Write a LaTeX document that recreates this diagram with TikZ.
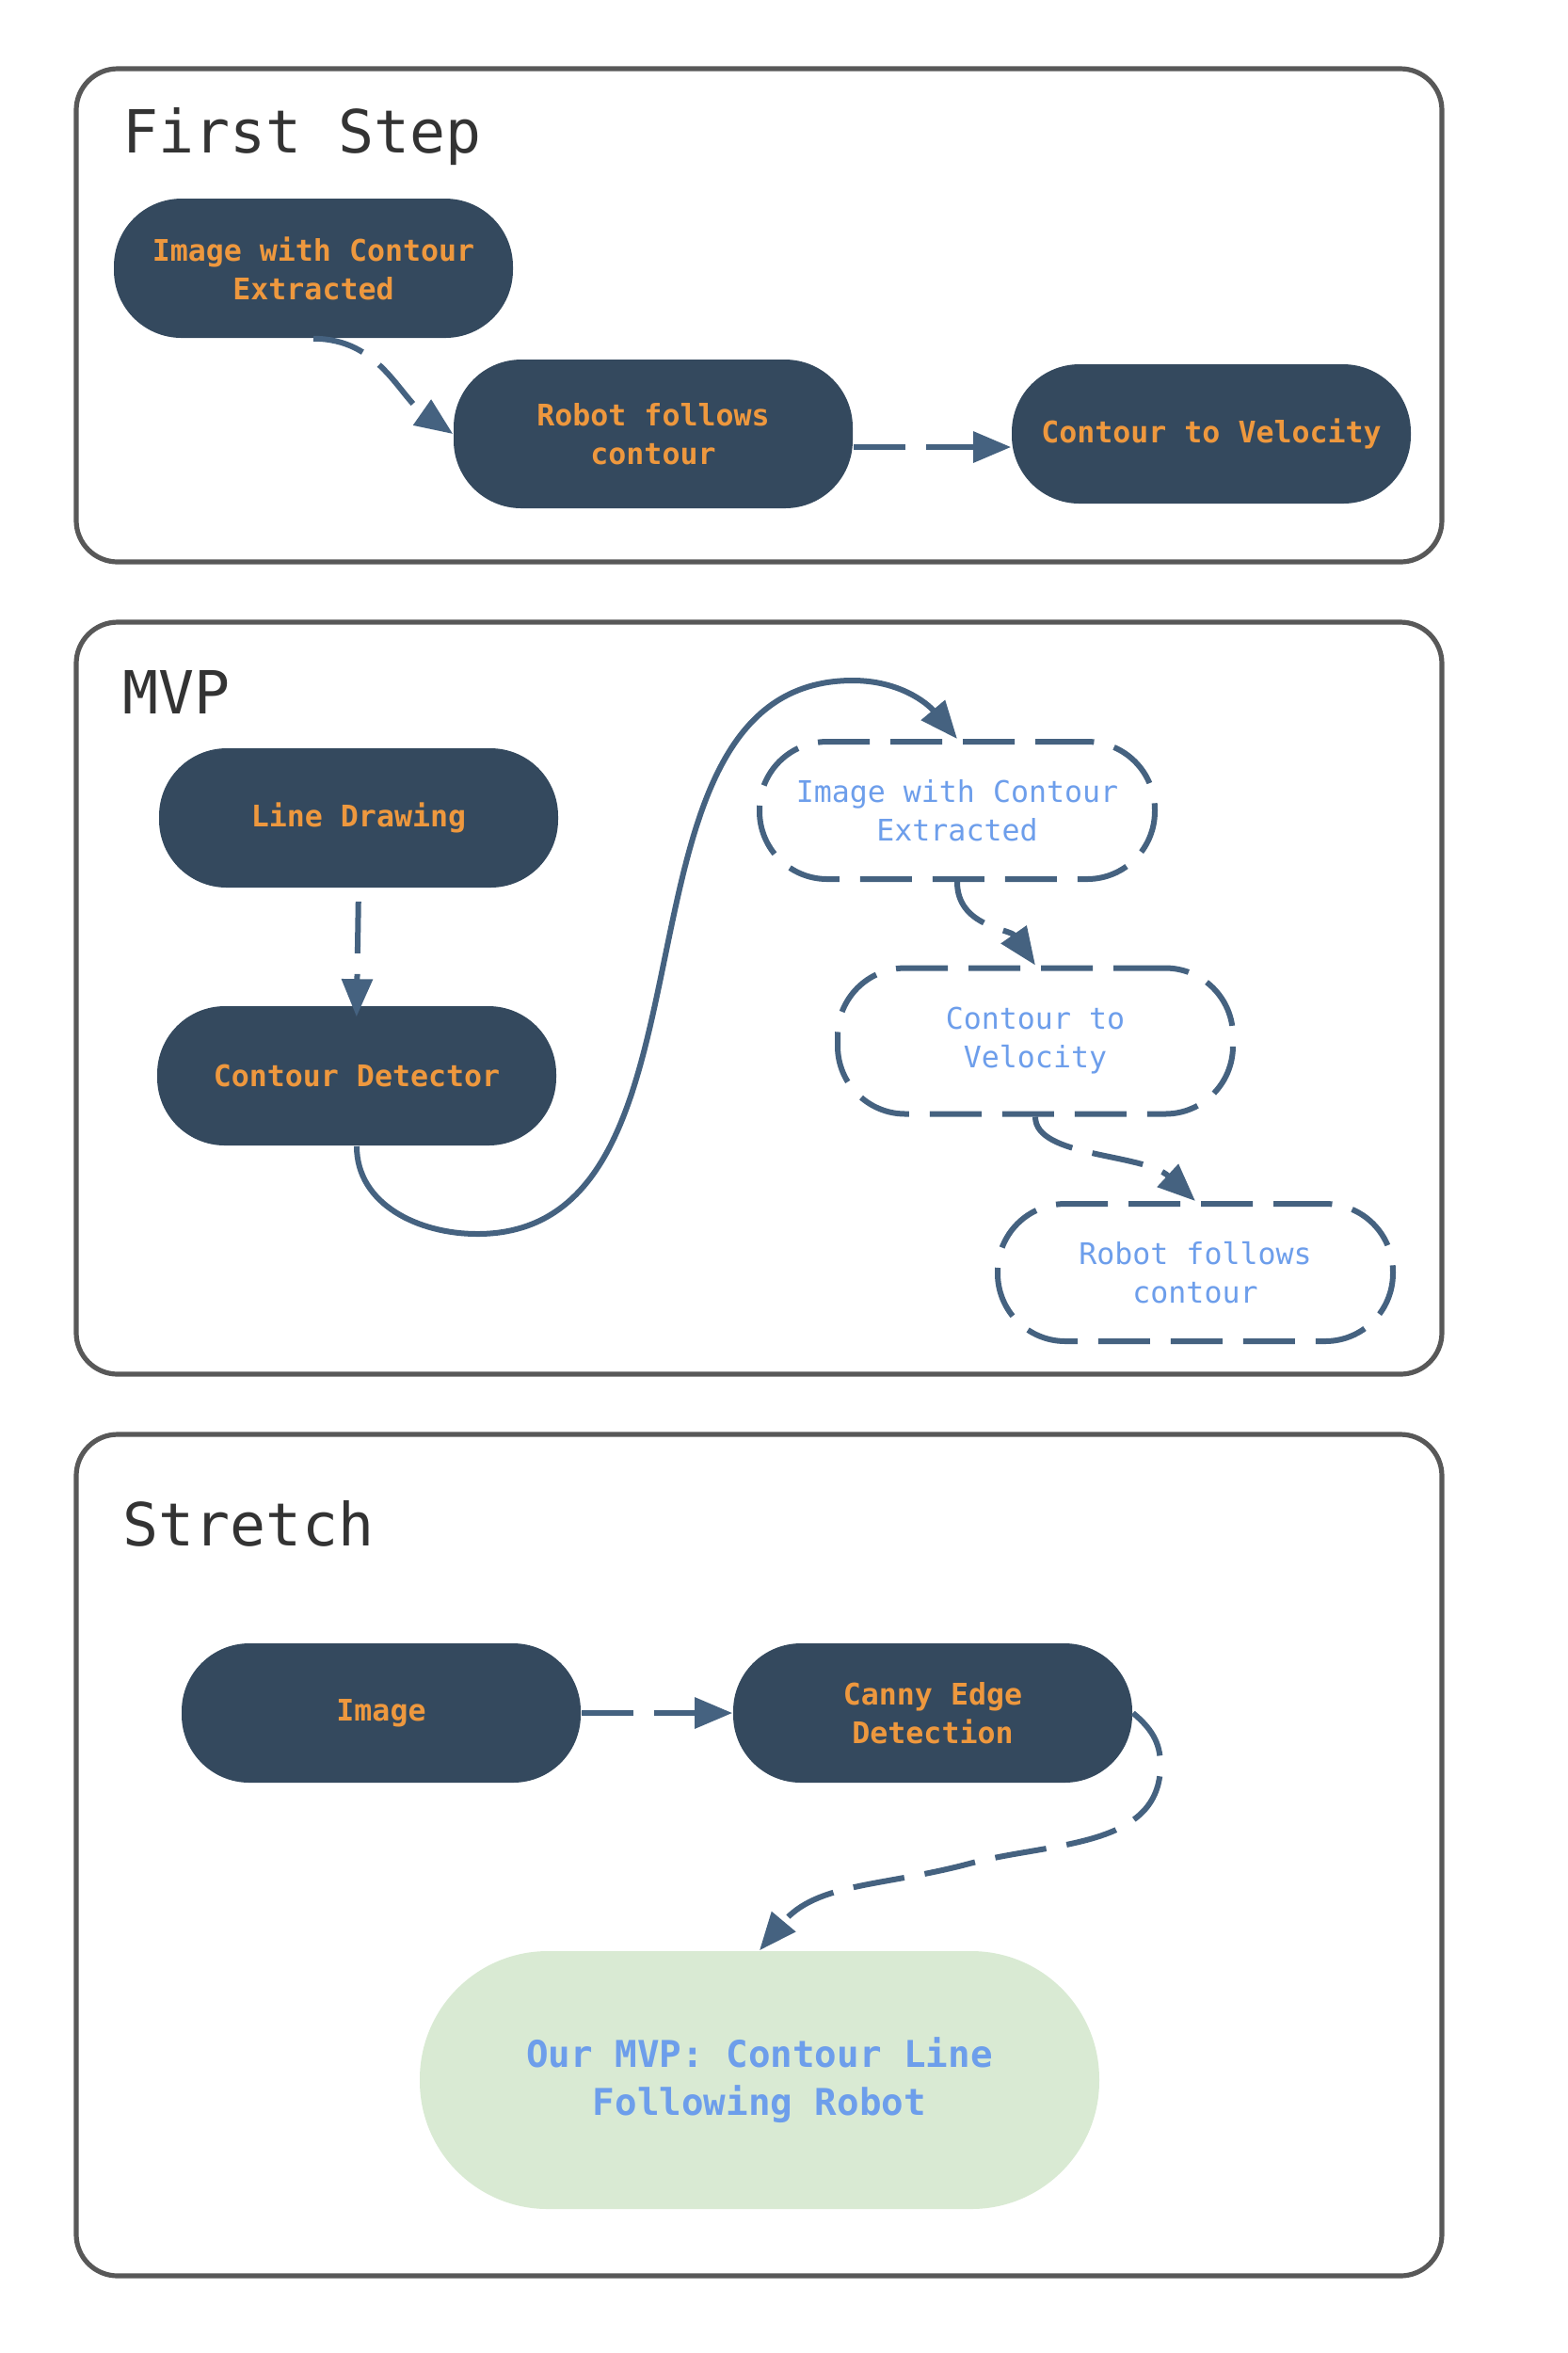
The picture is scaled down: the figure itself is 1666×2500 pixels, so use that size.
\documentclass[tikz,border=0pt]{standalone}
\usepackage{fontspec}
\newfontfamily\monofont{DejaVu Sans Mono}
\usetikzlibrary{arrows.meta,positioning}

\definecolor{slate}{RGB}{52,73,94}
\definecolor{amber}{RGB}{238,152,62}
\definecolor{steel}{RGB}{69,98,128}
\definecolor{sky}{RGB}{109,158,235}
\definecolor{mint}{RGB}{217,234,211}
\definecolor{edge}{RGB}{88,88,88}
\definecolor{ink}{RGB}{51,51,51}

\begin{document}
\begin{tikzpicture}[
    x=0.25pt, y=-0.25pt,
    stage/.style={draw=none, rounded corners=18pt, fill=slate, text=amber, align=center, minimum width=106pt, minimum height=37pt, inner sep=0pt, font=\monofont\bfseries\fontsize{7.9}{10.25}\selectfont},
    todo/.style={draw=steel, line width=1.5pt, dash pattern=on 13.75pt off 5.5pt, rounded corners=18pt, fill=white, text=sky, align=center, minimum width=105pt, minimum height=36.5pt, inner sep=0pt, font=\monofont\fontsize{7.9}{10.25}\selectfont},
    target/.style={rounded corners=34pt, fill=mint, text=sky, align=center, minimum width=180.5pt, minimum height=68.5pt, inner sep=0pt, font=\monofont\bfseries\fontsize{9.8}{12.75}\selectfont},
    panel/.style={draw=edge, line width=1.3pt, rounded corners=11pt},
    heading/.style={anchor=base west, text=ink, inner sep=0pt, font=\monofont\fontsize{15.8}{18}\selectfont},
    link/.style={-{Triangle[length=10pt,width=8pt]}, draw=steel, line width=1.5pt, dash pattern=on 13.75pt off 5.5pt},
    flow/.style={-{Triangle[length=10pt,width=8pt]}, draw=steel, line width=1.5pt}
]
\useasboundingbox (0,0) rectangle (1666,2500);

% first step
\draw[panel] (81,73) rectangle (1532,597);
\node[heading] (title1) at (130,162) {First Step};
\node[stage] (img1) at (333,285) {Image with Contour\\Extracted};
\node[stage, minimum height=39.5pt] (rob1) at (694,461) {Robot follows\\contour};
\node[stage] (vel1) at (1287,461) {Contour to Velocity};
\draw[link] (img1.south) to[out=0,in=145] (rob1.west);
\draw[link] ([yshift=-3.5pt]rob1.east) -- ([yshift=-3.5pt]vel1.west);

% mvp
\draw[panel] (81,661) rectangle (1532,1460);
\node[heading] (title2) at (130,758) {MVP};
\node[stage] (line) at (381,869) {Line Drawing};
\node[stage] (det) at (379,1143) {Contour Detector};
\node[todo] (img2) at (1017,861) {Image with Contour\\Extracted};
\node[todo, minimum height=38.75pt] (vel2) at (1100,1106) {Contour to\\Velocity};
\node[todo] (rob2) at (1270,1352) {Robot follows\\contour};
\draw[link, shorten <=3.5pt, shorten >=-3pt] (line.south) -- (det.north);
\draw[flow] (det.south) to[out=-90,in=180] (507,1311) to[out=0,in=180] (906,723) to[out=0,in=130] (img2.north);
\draw[link] (img2.south) to[out=-90,in=125] (vel2.north);
\draw[link] (vel2.south) .. controls (1100,1230) and (1215,1225) .. (rob2.north);

% stretch
\draw[panel] (81,1524) rectangle (1532,2418);
\node[heading] (title3) at (130,1642) {Stretch};
\node[stage] (img3) at (405,1820) {Image};
\node[stage] (canny) at (991,1820) {Canny Edge\\Detection};
\node[target] (goal) at (807,2210) {Our MVP: Contour Line\\Following Robot};
\draw[link] (img3) -- (canny);
\draw[link] (canny.east) to[out=-40,in=90] (1233,1875) to[out=-90,in=15] (1030,1980) to[out=195,in=50] (goal.north);
\end{tikzpicture}
\end{document}
